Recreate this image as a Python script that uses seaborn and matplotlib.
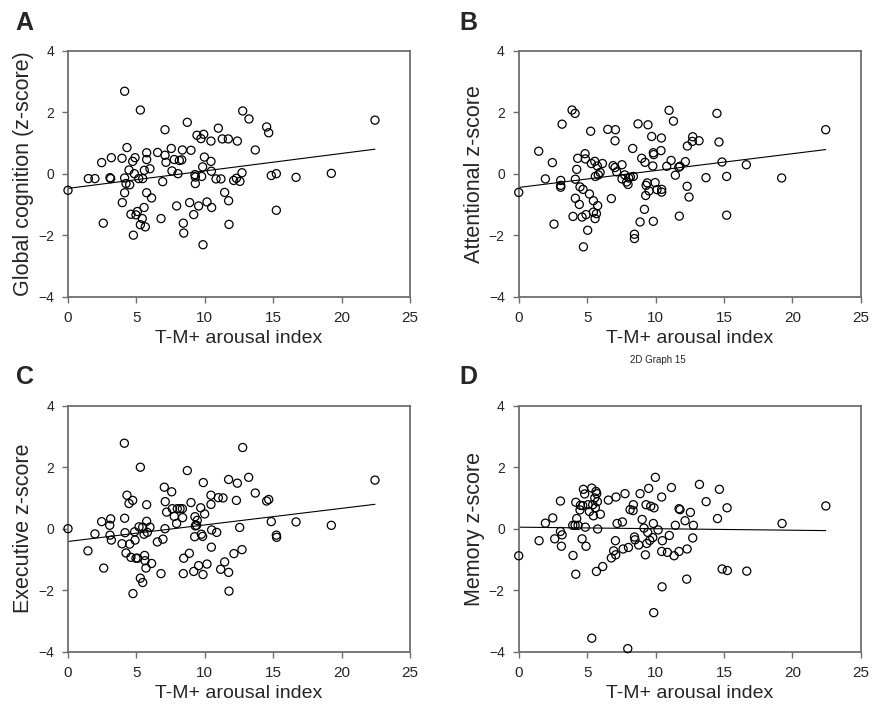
import numpy as np
import matplotlib
matplotlib.use("Agg")
import matplotlib.pyplot as plt
import seaborn as sns

# values
a_x = [0, 1.49, 1.97, 2.46, 2.58, 3.07, 3.12, 3.17, 3.95, 3.97, 4.14, 4.14, 4.14, 4.24, 4.31, 4.46,
       4.51, 4.60, 4.73, 4.78, 4.85, 4.90, 4.97, 5.07, 5.17, 5.29, 5.29, 5.43, 5.46, 5.56, 5.58, 5.65,
       5.75, 5.75, 5.75, 5.99, 6.11, 6.55, 6.80, 6.92, 7.09, 7.09, 7.16, 7.55, 7.60, 7.77, 7.94, 8.04,
       8.14, 8.31, 8.36, 8.43, 8.46, 8.72, 8.89, 8.99, 9.19, 9.28, 9.31, 9.31, 9.43, 9.55, 9.72, 9.77,
       9.84, 9.87, 9.92, 9.97, 10.16, 10.45, 10.45, 10.48, 10.50, 10.82, 10.99, 11.18, 11.28, 11.45,
       11.72, 11.74, 11.77, 12.11, 12.31, 12.38, 12.77, 13.23, 13.69, 14.52, 14.67, 12.72, 12.57,
       14.86, 15.23, 15.23, 16.67, 19.25, 22.44]
a_y = [-0.53, -0.15, -0.15, 0.37, -1.60, -0.12, -0.15, 0.53, 0.51, -0.93, 2.69, -0.13, -0.61, -0.31,
       0.86, 0.13, -0.35, -1.31, 0.41, -1.99, 0.01, 0.53, -1.33, -1.22, -0.15, 2.08, -1.65, -1.45,
       -0.15, -1.09, 0.12, -1.72, 0.69, 0.47, -0.61, 0.17, -0.78, 0.70, -1.45, -0.25, 1.44, 0.61, 0.38,
       0.83, 0.10, 0.47, -1.04, 0.01, 0.44, 0.46, 0.78, -1.60, -1.92, 1.68, -0.93, 0.77, -1.32, -0.02,
       -0.10, -0.31, 1.26, -1.04, 1.15, -0.08, 0.23, -2.30, 1.29, 0.55, -0.91, 1.07, 0.41, 0.09, -1.09,
       -0.16, 1.49, -0.16, 1.14, -0.60, 1.14, -0.87, -1.64, -0.21, -0.14, 1.07, 2.05, 1.79, 0.78, 1.53,
       1.34, 0.04, -0.24, -0.05, 0.01, -1.18, -0.11, 0.02, 1.75]

b_x = [0, 1.46, 1.95, 2.46, 2.58, 3.07, 3.07, 3.07, 3.17, 3.90, 4.12, 3.97, 4.14, 4.14, 4.24, 4.31,
       4.43, 4.48, 4.63, 4.70, 4.73, 4.85, 4.87, 4.92, 5.04, 5.17, 5.26, 5.31, 5.46, 5.46, 5.56, 5.58,
       5.60, 5.68, 5.75, 5.77, 5.82, 5.95, 6.12, 6.51, 6.77, 6.90, 7.07, 7.04, 7.04, 7.16, 7.55, 7.55,
       7.75, 7.89, 7.99, 8.04, 8.16, 8.33, 8.38, 8.46, 8.46, 8.72, 8.87, 8.99, 9.19, 9.23, 9.28, 9.31,
       9.40, 9.45, 9.53, 9.72, 9.80, 9.84, 9.84, 9.87, 9.97, 10.11, 10.40, 10.43, 10.45, 10.45, 10.82,
       10.99, 11.14, 11.31, 11.45, 11.70, 11.74, 11.79, 12.18, 12.31, 12.33, 12.45, 12.72, 12.69, 13.18,
       14.49, 14.64, 14.86, 16.64, 13.69, 15.20, 19.22, 15.20, 22.44]
b_y = [-0.60, 0.74, -0.16, 0.37, -1.63, -0.21, -0.37, -0.43, 1.62, 2.08, 1.97, -1.38, -0.17, -0.79,
       0.15, 0.51, -0.99, -0.42, -1.40, -0.50, -2.37, 0.66, 0.49, -1.32, -1.83, -0.65, 1.39, 0.34, -0.87,
       -1.24, 0.41, -1.45, -0.08, -1.29, 0.26, -1.03, -0.03, 0.05, 0.34, 1.45, -0.80, 0.27, 1.44, 1.08,
       0.21, 0.07, 0.30, -0.16, -0.03, -0.26, -0.34, -0.13, -0.10, 0.83, -0.08, -1.96, -2.10, 1.63,
       -1.56, 0.51, -1.15, 0.38, -0.70, -0.37, -0.29, 1.60, -0.55, 1.22, 0.26, 0.69, -1.54, 0.63, -0.28,
       -0.51, 0.76, 1.17, -0.59, -0.50, 0.25, 2.07, 0.44, 1.72, -0.04, 0.22, -1.37, 0.25, 0.40, -0.40,
       0.91, -0.75, 1.21, 1.06, 1.08, 1.97, 1.04, 0.39, 0.30, -0.12, -0.08, -0.13, -1.34, 1.44]

c_x = [0, 1.46, 1.97, 2.46, 2.61, 3.05, 3.12, 3.07, 3.17, 3.95, 4.12, 4.14, 4.17, 4.24, 4.31, 4.46,
       4.51, 4.60, 4.73, 4.75, 4.87, 4.90, 4.97, 5.09, 5.19, 5.29, 5.29, 5.46, 5.46, 5.56, 5.60, 5.63,
       5.70, 5.75, 5.75, 5.80, 5.99, 6.11, 6.53, 6.80, 6.94, 7.04, 7.09, 7.11, 7.21, 7.58, 7.63, 7.77,
       7.94, 7.99, 8.19, 8.36, 8.38, 8.46, 8.43, 8.72, 8.87, 8.99, 9.19, 9.26, 9.28, 9.31, 9.40, 9.45,
       9.55, 9.70, 9.75, 9.84, 9.87, 9.89, 9.99, 10.16, 10.45, 10.45, 10.48, 10.50, 10.87, 10.99, 11.16,
       11.33, 11.45, 11.74, 11.74, 11.77, 12.13, 12.31, 12.38, 12.55, 12.72, 12.77, 13.21, 13.69, 14.52,
       14.67, 14.86, 16.67, 19.25, 22.44, 15.23, 15.25]
c_y = [0.00, -0.72, -0.17, 0.23, -1.28, 0.11, 0.32, -0.21, -0.37, -0.49, 2.78, 0.34, -0.13, -0.79,
       1.09, 0.82, -0.50, -0.93, 0.92, -2.11, -0.10, -0.37, -0.96, -0.96, 0.06, 2.00, -1.61, -1.75, 0.05,
       -0.18, -0.87, -1.04, -1.28, 0.78, 0.24, -0.12, 0.05, -1.13, -0.43, -1.46, -0.34, 1.35, 0.00, 0.88,
       0.54, 1.20, 0.65, 0.40, 0.17, 0.65, 0.65, 0.65, 0.36, -0.96, -1.46, 1.89, -0.80, 0.85, -1.39,
       -0.26, 0.39, 0.09, 0.11, 0.27, -1.20, 0.68, -0.18, -0.25, -1.49, 1.50, 0.48, -1.15, 1.09, 0.79,
       -0.60, -0.04, -0.12, 1.01, -1.32, 1.00, -1.08, 1.60, -1.42, -2.03, -0.81, 0.92, 1.48, 0.04, -0.68,
       2.64, 1.67, 1.16, 0.90, 0.95, 0.23, 0.22, 0.11, 1.58, -0.21, -0.28]

d_x = [0, 1.49, 1.95, 2.49, 2.63, 3.05, 3.05, 3.17, 3.12, 3.97, 3.95, 4.12, 4.17, 4.17, 4.24, 4.34,
       4.48, 4.51, 4.63, 4.68, 4.73, 4.82, 4.87, 4.92, 5.07, 5.17, 5.34, 5.34, 5.41, 5.46, 5.56, 5.60,
       5.65, 5.70, 5.75, 5.68, 5.77, 5.97, 6.14, 6.55, 6.77, 6.94, 7.09, 7.07, 7.11, 7.19, 7.58, 7.63,
       7.77, 7.97, 8.02, 8.14, 8.36, 8.38, 8.46, 8.50, 8.77, 8.87, 9.02, 9.16, 9.26, 9.31, 9.36, 9.43,
       9.50, 9.58, 9.65, 9.80, 9.84, 9.89, 9.87, 9.99, 10.19, 10.45, 10.45, 10.48, 10.50, 10.87, 11.01,
       11.16, 11.36, 11.45, 11.72, 11.72, 11.79, 12.16, 12.28, 12.31, 13.21, 14.67, 13.70, 15.23, 12.55,
       12.77, 14.53, 19.25, 22.45, 12.72, 14.87, 15.25, 16.67]
d_y = [-0.88, -0.39, 0.18, 0.35, -0.33, 0.90, -0.09, -0.20, -0.57, -0.87, 0.11, 0.11, -1.48, 0.86,
       0.33, 0.11, 0.61, 0.76, -0.33, 0.75, 1.28, 1.13, 0.05, -0.57, 0.78, 0.56, 1.32, -3.56, 0.78, 0.42,
       1.00, 0.68, 1.21, 1.14, 0.88, -1.39, -0.01, 0.47, -1.23, 0.93, -0.95, -0.72, -0.85, -0.39, 1.03,
       0.17, 0.22, -0.66, 1.14, -3.90, -0.61, 0.62, 0.59, 0.78, -0.27, -0.36, -0.53, 1.14, 0.30, 0.02,
       -0.85, 0.78, -0.48, -0.12, 1.31, -0.38, 0.73, -0.29, 0.17, 0.68, -2.73, 1.67, -0.04, 1.03, -0.74,
       -1.89, -0.39, -0.77, -0.22, 1.34, -0.88, 0.11, -0.74, 0.65, 0.62, 0.26, -1.64, -0.66, 1.44, 1.28,
       0.88, 0.68, 0.53, 0.11, 0.33, 0.17, 0.74, -0.30, -1.31, -1.36, -1.38]

panels = [
    ("A", a_x, a_y, "Global cognition (z-score)"),
    ("B", b_x, b_y, "Attentional z-score"),
    ("C", c_x, c_y, "Executive z-score"),
    ("D", d_x, d_y, "Memory z-score"),
]
x_label = "T-M+ arousal index"

sns.set_style("white")
plt.rcParams['font.family'] = ['Liberation Sans', 'DejaVu Sans']

fig = plt.figure(figsize=(8.74, 7.11), dpi=100)
# axes boxes in figure fraction (left, bottom, width, height)
boxes = [(0.0778, 0.5823, 0.3913, 0.3460), (0.5935, 0.5823, 0.3913, 0.3460),
         (0.0778, 0.0834, 0.3913, 0.3460), (0.5935, 0.0834, 0.3913, 0.3460)]
letter_x = [0.018, 0.526, 0.018, 0.526]
spine_col = "#6e6e6e"

for (letter, xs, ys, ylab), box, lx in zip(panels, boxes, letter_x):
    ax = fig.add_axes(box)
    xs = np.array(xs)
    ys = np.array(ys)
    sns.scatterplot(x=xs, y=ys, ax=ax, s=34, marker="o", facecolor="none",
                    edgecolor="black", linewidth=0.9, clip_on=False, zorder=3)
    sns.regplot(x=xs, y=ys, ax=ax, scatter=False, ci=None, truncate=True,
                line_kws=dict(color="black", lw=0.8))
    ax.set_xlim(0, 25)
    ax.set_ylim(-4, 4)
    ax.set_xticks([0, 5, 10, 15, 20, 25])
    ax.set_yticks([-4, -2, 0, 2, 4])
    for sp in ax.spines.values():
        sp.set_visible(True)
        sp.set_color(spine_col)
        sp.set_linewidth(1.3)
    ax.tick_params(axis="both", direction="out", length=4, width=1, color=spine_col,
                   left=True, bottom=True)
    ax.tick_params(axis="x", pad=6, labelsize=11)
    ax.tick_params(axis="y", pad=6, labelsize=10)
    ax.set_xlabel(x_label, fontsize=14, labelpad=4)
    ax.set_ylabel(ylab, fontsize=15.5, labelpad=3)
    fig.text(lx, box[1] + box[3] + 0.030, letter, fontsize=18,
             fontweight="bold", ha="left", va="baseline")

fig.text(0.753, 0.494, "2D Graph 15", fontsize=7, ha="center", va="center")

plt.savefig("out.png", dpi=100)
